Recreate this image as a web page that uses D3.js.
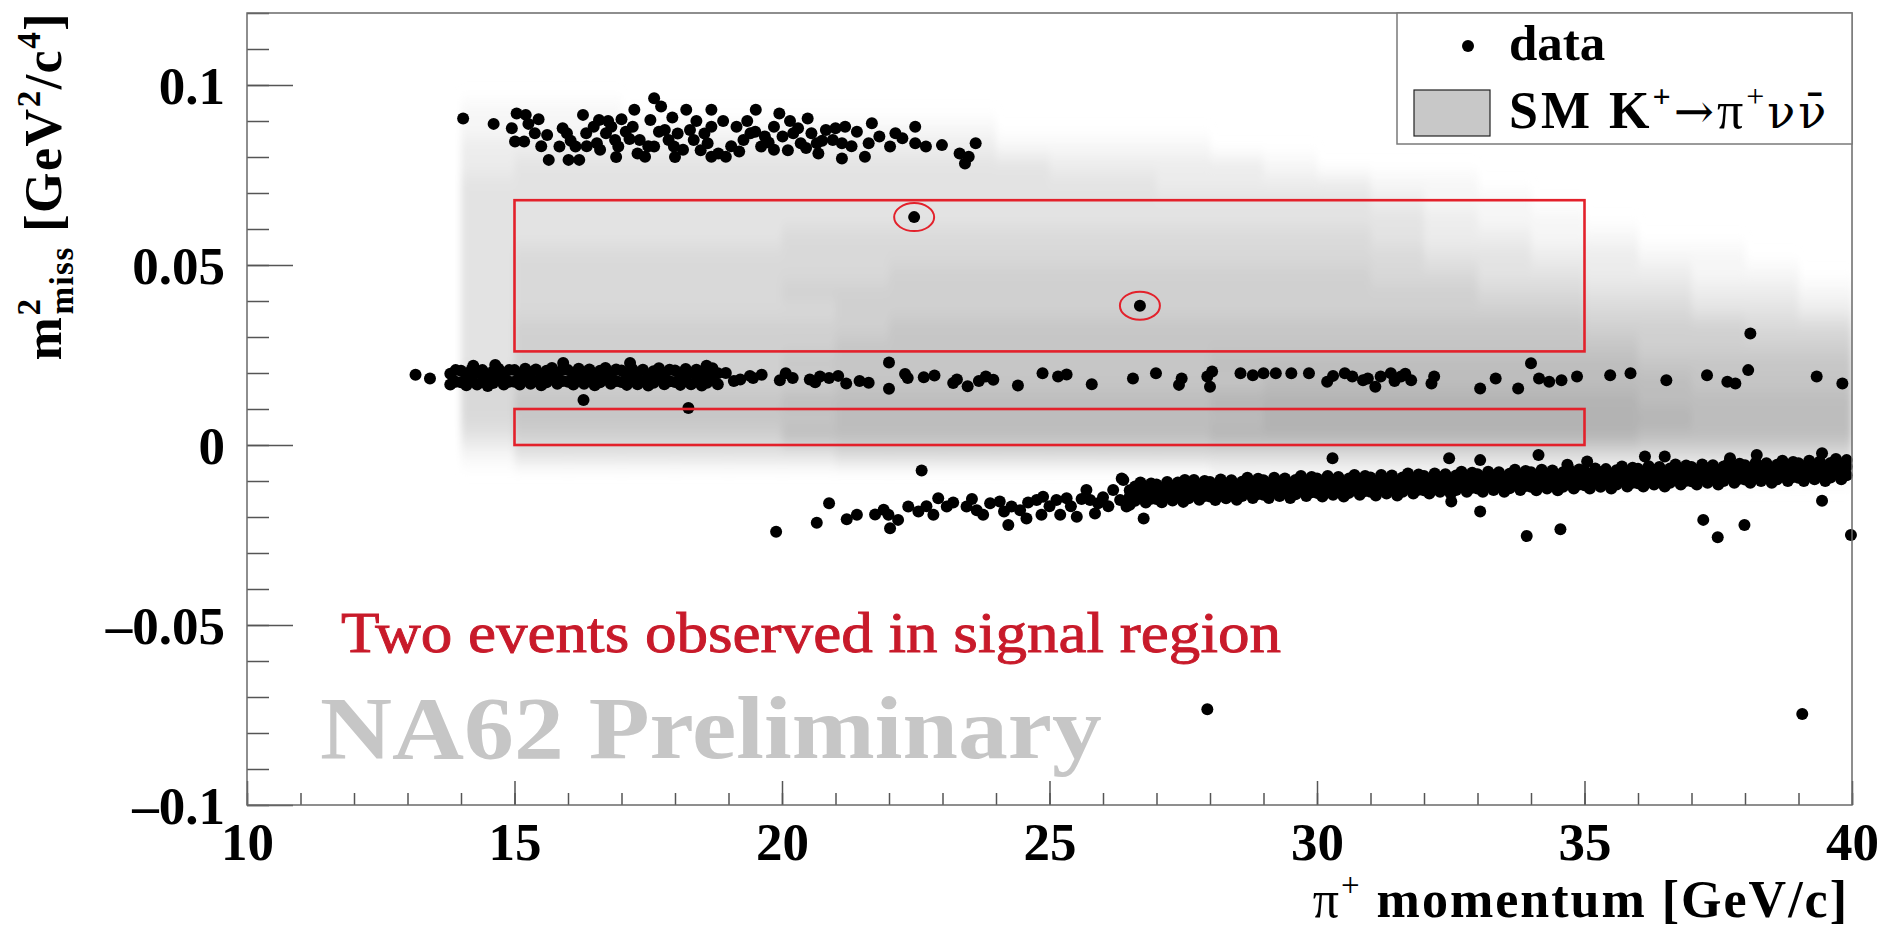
<!DOCTYPE html>
<html><head><meta charset="utf-8">
<script src="https://cdn.jsdelivr.net/npm/d3@7"></script>
<style>
body{margin:0;background:#fff}
svg{display:block}
text{font-family:"Liberation Serif","Times New Roman",serif}
</style>
</head><body>
<svg id="c" width="1900" height="927"></svg>
<script>
// ---------------- data ----------------
const xDomain = [10, 40];
const yDomain = [-0.1, 0.12];
const xMajorTicks = [10, 15, 20, 25, 30, 35, 40];
const xTickLabels = ["10", "15", "20", "25", "30", "35", "40"];
const yMajorTicks = [-0.1, -0.05, 0, 0.05, 0.1];
const yTickLabels = ["\u20130.1", "\u20130.05", "0", "0.05", "0.1"];

// SM K+ -> pi+ nu nubar expectation (grey levels 0-9), columns = 1 GeV bins starting at heatXBins
const heatXBins = [14,15,16,17,18,19,20,21,22,23,24,25,26,27,28,29,30,31,32,33,34,35,36,37,38,39];
const heatYLow = [0.090,0.085,0.080,0.075,0.070,0.065,0.060,0.055,0.050,0.045,0.040,0.035,0.030,0.025,0.020,0.015,0.010,0.005,0.000,-0.005,-0.010];
const heatYBinWidth = 0.005;
const heatRows = [
  "111"+"00000000000000000000000",
  "1111111111"+"0000000000000000",
  "2222222222"+"1111"+"000000000000",
  "2"+"3333333333"+"2222"+"1"+"0000000000",
  "3333333333333"+"2222"+"11"+"0000000",
  "33333333333333333"+"2"+"11"+"000000",
  "333333333333333333"+"2"+"11"+"00000",
  "333333"+"44444444444"+"3"+"22"+"11"+"0000",
  "3"+"44444444444444444"+"33"+"22"+"11"+"00",
  "3"+"4444444"+"555555555"+"44"+"33"+"22"+"11"+"0",
  "3"+"44444"+"5555555555555"+"44"+"33"+"22"+"1",
  "3"+"444444"+"55555555555555"+"44"+"33"+"2",
  "3"+"5555555"+"6666666666666"+"555"+"44",
  "3"+"555555"+"666666666666666"+"5555",
  "3"+"55555"+"66666666"+"77777777"+"6666",
  "4"+"555555"+"66666666"+"77777777"+"666",
  "4"+"66666"+"77777777"+"88888888"+"7777",
  "4"+"666666"+"77777777"+"88888888"+"777",
  "3"+"55555"+"77777777"+"88888888"+"7777",
  "1"+"333333"+"4444444444444444444",
  "00000000000000"+"111111111111"
];

// data points [p (GeV/c), m2miss (GeV^2/c^4)]
const topBand = [
 [14.04,.0907],[14.61,.0892],[15.04,.0921],[15.21,.0917],[15.26,.0892],[15.01,.0843],[15.18,.0843],[15.38,.0866],[15.61,.0861],[15.64,.0792],
 [15.84,.0829],[15.98,.0866],[16.01,.0792],[16.21,.0792],[16.14,.0829],[16.28,.0917],[16.34,.0866],[16.48,.0884],[16.58,.0903],[16.54,.0838],
 [16.71,.0866],[16.81,.0884],[16.88,.0847],[16.94,.0829],[17.08,.0870],[17.21,.0884],[17.24,.0931],[17.34,.0847],[17.44,.0801],[17.54,.0903],
 [17.61,.0963],[17.61,.0829],[17.74,.0940],[17.81,.0875],[17.88,.0847],[17.98,.0829],[18.21,.0931],[18.28,.0875],[18.35,.0847],[18.48,.0819],
 [18.61,.0838],[18.68,.0931],[18.68,.0884],[18.81,.0810],[18.95,.0801],[18.68,.0801],[19.15,.0884],[19.28,.0847],[19.41,.0866],[19.51,.0931],
 [19.61,.0829],[19.68,.0857],[19.85,.0884],[19.95,.0921],[20.01,.0857],[20.11,.0819],[20.21,.0866],[20.35,.0838],[20.48,.0907],[20.55,.0866],
 [20.65,.0838],[20.68,.0810],[20.82,.0875],[20.95,.0847],[21.12,.0838],[21.18,.0884],[21.12,.0796],[21.55,.0801],[21.62,.0838],[21.68,.0894],
 [21.82,.0857],[22.02,.0829],[22.12,.0866],[22.25,.0852],[22.49,.0884],[22.49,.0838],[22.69,.0829],[22.99,.0833],[23.32,.0810],[23.49,.0801],
 [23.62,.0838],[23.42,.0782],
 [15.45,.0905],[15.90,.0880],[16.05,.0845],[16.35,.0830],[16.60,.0820],[16.75,.0900],[17.00,.0905],[17.15,.0850],[17.30,.0810],[17.50,.0830],
 [17.70,.0870],[17.95,.0910],[18.05,.0865],[18.15,.0820],[18.40,.0900],[18.55,.0865],[18.90,.0900],[19.05,.0830],[19.20,.0815],[19.35,.0900],
 [19.50,.0870],[19.75,.0840],[19.85,.0820],[20.15,.0900],[20.30,.0880],[20.45,.0825],[20.75,.0845],[21.00,.0880],[21.30,.0830],[21.40,.0870],
 [16.90,.0800],[18.00,.0800],[15.50,.0830],[14.95,.0880]
];
// dense part of the middle band: [p, upper m2, lower m2]
const midBandDense = [
 [13.8,.0198,.0168],[13.9,.0208,.0176],[14.0,.0206,.0174],[14.1,.0196,.0166],[14.2,.0210,.0180],[14.3,.0200,.0168],[14.4,.0208,.0176],[14.5,.0194,.0164],[14.6,.0204,.0172],[14.7,.0212,.0182],
 [14.8,.0198,.0168],[14.9,.0208,.0176],[15.0,.0208,.0176],[15.1,.0198,.0168],[15.2,.0212,.0182],[15.3,.0202,.0170],[15.4,.0210,.0178],[15.5,.0196,.0166],[15.6,.0206,.0174],[15.7,.0214,.0184],
 [15.8,.0200,.0170],[15.9,.0210,.0178],[16.0,.0208,.0176],[16.1,.0198,.0168],[16.2,.0212,.0182],[16.3,.0202,.0170],[16.4,.0210,.0178],[16.5,.0196,.0166],[16.6,.0206,.0174],[16.7,.0214,.0184],
 [16.8,.0200,.0170],[16.9,.0210,.0178],[17.0,.0207,.0175],[17.1,.0197,.0167],[17.2,.0211,.0181],[17.3,.0201,.0169],[17.4,.0209,.0177],[17.5,.0195,.0165],[17.6,.0205,.0173],[17.7,.0213,.0183],
 [17.8,.0199,.0169],[17.9,.0209,.0177],[18.0,.0207,.0175],[18.1,.0197,.0167],[18.2,.0211,.0181],[18.3,.0201,.0169],[18.4,.0209,.0177],[18.5,.0195,.0165],[18.6,.0205,.0173],[18.7,.0213,.0183],
 [18.8,.0199,.0169]
];
const midBandSparse = [
 [13.15,.0195],[13.42,.0185],[14.23,.0220],[14.64,.0222],[15.91,.0228],[17.16,.0228],[18.59,.0220],[16.29,.0125],[18.25,.0103],
 [18.95,.0200],[19.10,.0178],[19.22,.0182],[19.40,.0192],[19.46,.0186],[19.62,.0195],[19.96,.0180],[20.07,.0199],[20.20,.0186],[20.52,.0182],
 [20.62,.0174],[20.71,.0190],[20.88,.0186],[21.05,.0192],[21.20,.0171],[21.45,.0178],[21.62,.0173],[22.00,.0229],[22.00,.0156],[22.30,.0197],
 [22.35,.0186],[22.65,.0188],[22.85,.0193],[23.20,.0172],[23.27,.0182],[23.47,.0163],[23.68,.0178],[23.81,.0190],[23.95,.0181],[24.41,.0165],
 [24.87,.0199],[25.16,.0190],[25.32,.0196],[25.79,.0169],
 [26.56,.0185],[26.99,.0199],[27.42,.0167],[27.47,.0185],[27.95,.0190],[28.00,.0162],[28.04,.0204],[28.57,.0199],[28.80,.0194],[29.00,.0199],
 [29.23,.0199],[29.52,.0199],[29.85,.0199],[30.19,.0176],[30.30,.0192],[30.52,.0199],[30.66,.0190],[30.86,.0180],[30.95,.0185],[31.09,.0162],
 [31.19,.0190],[31.38,.0199],[31.45,.0178],[31.57,.0190],[31.65,.0198],[31.76,.0180],[32.14,.0171],[32.19,.0190],[33.05,.0157],[33.34,.0185],
 [33.76,.0157],[34.00,.0227],[34.15,.0185],[34.34,.0176],[34.57,.0180],[34.86,.0190],[35.48,.0194],[35.86,.0199],[36.53,.0180],[37.29,.0194],
 [37.67,.0176],[37.82,.0171],[38.06,.0208],[38.10,.0310],[39.34,.0190],[39.82,.0171]
];
const lowBandSparse = [
 [19.89,-.0241],[20.65,-.0216],[20.88,-.0162],[21.21,-.0206],[21.40,-.0194],[21.74,-.0193],[21.90,-.0180],[21.99,-.0194],[22.02,-.0231],[22.17,-.0208],
 [22.36,-.0171],[22.55,-.0185],[22.61,-.0071],[22.70,-.0170],[22.83,-.0194],[22.92,-.0148],[23.08,-.0171],[23.20,-.0160],[23.45,-.0171],[23.55,-.0150],
 [23.64,-.0181],[23.76,-.0194],[23.89,-.0162],[24.07,-.0157],[24.15,-.0185],[24.23,-.0222],[24.29,-.0171],[24.45,-.0181],[24.57,-.0204],[24.60,-.0160],
 [24.76,-.0153],[24.88,-.0144],[24.85,-.0194],[25.00,-.0170],[25.13,-.0153],[25.20,-.0194],[25.32,-.0148],[25.40,-.0170],[25.51,-.0199],[25.60,-.0150],
 [25.69,-.0125],[25.76,-.0153],[25.85,-.0190],[25.91,-.0162],[26.00,-.0145],[26.10,-.0170],[26.19,-.0125],[26.32,-.0153],[26.38,-.0097],[26.44,-.0171]
];
// dense part of the lower band: [p, upper m2, middle m2, lower m2]
const lowBandDense = [
 [26.5,-.0126,-.0143,-.0166],[26.6,-.0115,-.0139,-.0155],[26.7,-.0104,-.0123,-.0144],[26.8,-.0120,-.0141,-.0160],[26.9,-.0107,-.0125,-.0149],
 [27.0,-.0110,-.0128,-.0150],[27.1,-.0119,-.0142,-.0159],[27.2,-.0103,-.0123,-.0143],[27.3,-.0114,-.0130,-.0154],[27.4,-.0104,-.0126,-.0144],
 [27.5,-.0118,-.0135,-.0158],[27.6,-.0108,-.0132,-.0148],[27.7,-.0097,-.0116,-.0137],[27.8,-.0112,-.0133,-.0152],[27.9,-.0100,-.0118,-.0142],
 [28.0,-.0103,-.0121,-.0143],[28.1,-.0113,-.0136,-.0153],[28.2,-.0096,-.0116,-.0136],[28.3,-.0108,-.0124,-.0148],[28.4,-.0098,-.0120,-.0138],
 [28.5,-.0112,-.0129,-.0152],[28.6,-.0102,-.0126,-.0142],[28.7,-.0091,-.0110,-.0131],[28.8,-.0107,-.0128,-.0147],[28.9,-.0094,-.0112,-.0136],
 [29.0,-.0098,-.0116,-.0138],[29.1,-.0107,-.0130,-.0147],[29.2,-.0091,-.0111,-.0131],[29.3,-.0102,-.0118,-.0142],[29.4,-.0093,-.0115,-.0133],
 [29.5,-.0107,-.0124,-.0147],[29.6,-.0097,-.0121,-.0137],[29.7,-.0086,-.0105,-.0126],[29.8,-.0102,-.0123,-.0142],[29.9,-.0089,-.0107,-.0131],
 [30.0,-.0093,-.0111,-.0133],[30.1,-.0103,-.0126,-.0143],[30.2,-.0086,-.0106,-.0126],[30.3,-.0098,-.0114,-.0138],[30.4,-.0089,-.0111,-.0129],
 [30.5,-.0103,-.0120,-.0143],[30.6,-.0093,-.0117,-.0133],[30.7,-.0083,-.0102,-.0123],[30.8,-.0098,-.0119,-.0138],[30.9,-.0086,-.0104,-.0128],
 [31.0,-.0090,-.0108,-.0130],[31.1,-.0100,-.0123,-.0140],[31.2,-.0083,-.0103,-.0123],[31.3,-.0095,-.0111,-.0135],[31.4,-.0085,-.0107,-.0125],
 [31.5,-.0100,-.0117,-.0140],[31.6,-.0090,-.0114,-.0130],[31.7,-.0079,-.0098,-.0119],[31.8,-.0095,-.0116,-.0135],[31.9,-.0082,-.0100,-.0124],
 [32.0,-.0086,-.0104,-.0126],[32.1,-.0095,-.0118,-.0135],[32.2,-.0079,-.0099,-.0119],[32.3,-.0090,-.0106,-.0130],[32.4,-.0081,-.0103,-.0121],
 [32.5,-.0095,-.0112,-.0135],[32.6,-.0085,-.0109,-.0125],[32.7,-.0074,-.0093,-.0114],[32.8,-.0090,-.0111,-.0130],[32.9,-.0077,-.0095,-.0119],
 [33.0,-.0081,-.0099,-.0121],[33.1,-.0090,-.0113,-.0130],[33.2,-.0074,-.0094,-.0114],[33.3,-.0085,-.0101,-.0125],[33.4,-.0076,-.0098,-.0116],
 [33.5,-.0090,-.0107,-.0130],[33.6,-.0080,-.0104,-.0120],[33.7,-.0069,-.0088,-.0109],[33.8,-.0085,-.0106,-.0125],[33.9,-.0072,-.0090,-.0114],
 [34.0,-.0076,-.0094,-.0116],[34.1,-.0086,-.0109,-.0126],[34.2,-.0069,-.0089,-.0109],[34.3,-.0081,-.0097,-.0121],[34.4,-.0071,-.0093,-.0111],
 [34.5,-.0086,-.0103,-.0126],[34.6,-.0076,-.0100,-.0116],[34.7,-.0065,-.0084,-.0105],[34.8,-.0081,-.0102,-.0121],[34.9,-.0068,-.0086,-.0110],
 [35.0,-.0072,-.0090,-.0112],[35.1,-.0081,-.0104,-.0121],[35.2,-.0065,-.0085,-.0105],[35.3,-.0076,-.0092,-.0116],[35.4,-.0067,-.0089,-.0107],
 [35.5,-.0081,-.0098,-.0121],[35.6,-.0070,-.0094,-.0110],[35.7,-.0060,-.0079,-.0100],[35.8,-.0075,-.0096,-.0115],[35.9,-.0063,-.0081,-.0105],
 [36.0,-.0066,-.0084,-.0106],[36.1,-.0075,-.0098,-.0115],[36.2,-.0059,-.0079,-.0099],[36.3,-.0070,-.0086,-.0110],[36.4,-.0061,-.0083,-.0101],
 [36.5,-.0075,-.0092,-.0115],[36.6,-.0065,-.0089,-.0105],[36.7,-.0054,-.0073,-.0094],[36.8,-.0070,-.0091,-.0110],[36.9,-.0057,-.0075,-.0099],
 [37.0,-.0061,-.0079,-.0101],[37.1,-.0070,-.0093,-.0110],[37.2,-.0054,-.0074,-.0094],[37.3,-.0065,-.0081,-.0105],[37.4,-.0056,-.0078,-.0096],
 [37.5,-.0070,-.0087,-.0110],[37.6,-.0060,-.0084,-.0100],[37.7,-.0049,-.0068,-.0089],[37.8,-.0065,-.0086,-.0105],[37.9,-.0052,-.0070,-.0094],
 [38.0,-.0056,-.0074,-.0096],[38.1,-.0065,-.0088,-.0105],[38.2,-.0049,-.0069,-.0089],[38.3,-.0060,-.0076,-.0100],[38.4,-.0051,-.0073,-.0091],
 [38.5,-.0065,-.0082,-.0105],[38.6,-.0055,-.0079,-.0095],[38.7,-.0044,-.0063,-.0084],[38.8,-.0060,-.0081,-.0100],[38.9,-.0047,-.0065,-.0089],
 [39.0,-.0051,-.0069,-.0091],[39.1,-.0060,-.0083,-.0100],[39.2,-.0044,-.0064,-.0084],[39.3,-.0055,-.0071,-.0095],[39.4,-.0046,-.0068,-.0086],
 [39.5,-.0060,-.0077,-.0100],[39.6,-.0050,-.0074,-.0090],[39.7,-.0039,-.0058,-.0079],[39.8,-.0055,-.0076,-.0095],[39.9,-.0042,-.0060,-.0084]
];
const outliers = [
 [30.29,-.0037],[32.47,-.0037],[33.05,-.0042],[34.14,-.0028],[36.13,-.0032],[36.50,-.0032],[38.22,-.0028],[39.44,-.0023],[37.72,-.0037],
 [26.76,-.0204],[33.05,-.0185],[32.51,-.0157],[33.92,-.0253],[34.55,-.0234],[37.22,-.0208],[37.49,-.0256],[37.99,-.0222],[39.44,-.0155],
 [39.98,-.0250],[26.35,-.0093],[27.53,-.0097],[34.68,-.0055],[35.05,-.0046],[27.95,-.0734],[39.07,-.0747]
];
const signalEvents = [[22.47, 0.0633], [26.69, 0.0387]];
// signal regions: [pMin, pMax, m2Min, m2Max]
const signalRegions = [[15, 35, 0.026, 0.068], [15, 35, 0.0, 0.01]];

const legendLabels = ["data", "SM K"];
const xTitle = " momentum [GeV/c]";
const annotation = "Two events observed in signal region";
const watermark = "NA62 Preliminary";

// ---------------- drawing ----------------
const M = {l: 247, r: 1852, t: 13, b: 805};
const svg = d3.select("#c");
const x = d3.scaleLinear().domain(xDomain).range([M.l, M.r]);
const y = d3.scaleLinear().domain(yDomain).range([M.b, M.t]);
const gray = d3.scaleLinear().domain([0, 9]).range(["#ffffff", "#aaaaaa"]);

const defs = svg.append("defs");
defs.append("clipPath").attr("id", "clip").append("rect")
  .attr("x", M.l).attr("y", M.t).attr("width", M.r - M.l).attr("height", M.b - M.t);
defs.append("filter").attr("id", "blur")
  .attr("x", "-5%").attr("y", "-20%").attr("width", "110%").attr("height", "140%")
  .append("feGaussianBlur").attr("stdDeviation", "3.5 9");

// heat map
const cells = [];
heatRows.forEach((s, i) => {
  heatXBins.forEach((xb, j) => {
    const v = +(s[j] || 0);
    if (v > 0) cells.push({x0: xb, y0: heatYLow[i], v});
  });
});
svg.append("g").attr("clip-path", "url(#clip)")
  .append("g").attr("filter", "url(#blur)")
  .selectAll("rect").data(cells).join("rect")
  .attr("x", d => x(d.x0))
  .attr("y", d => y(d.y0 + heatYBinWidth))
  .attr("width", d => x(d.x0 + 1) - x(d.x0) + 0.6)
  .attr("height", d => y(d.y0) - y(d.y0 + heatYBinWidth) + 0.6)
  .attr("fill", d => gray(d.v));

// points
const pts = [];
topBand.forEach(p => pts.push(p));
midBandDense.forEach(r => { pts.push([r[0], r[1]]); pts.push([r[0], r[2]]); });
midBandSparse.forEach(p => pts.push(p));
lowBandSparse.forEach(p => pts.push(p));
lowBandDense.forEach(r => { pts.push([r[0], r[1]]); pts.push([r[0], r[2]]); pts.push([r[0], r[3]]); });
outliers.forEach(p => pts.push(p));
signalEvents.forEach(p => pts.push(p));
svg.append("g").selectAll("circle").data(pts).join("circle")
  .attr("cx", d => x(d[0])).attr("cy", d => y(d[1])).attr("r", 6).attr("fill", "#000");

// signal regions
const red = "#e3212b";
svg.append("g").selectAll("rect").data(signalRegions).join("rect")
  .attr("x", d => x(d[0])).attr("y", d => y(d[3]))
  .attr("width", d => x(d[1]) - x(d[0])).attr("height", d => y(d[2]) - y(d[3]))
  .attr("fill", "none").attr("stroke", red).attr("stroke-width", 2.6);
svg.append("g").selectAll("ellipse").data(signalEvents).join("ellipse")
  .attr("cx", d => x(d[0])).attr("cy", d => y(d[1])).attr("rx", 20).attr("ry", 14)
  .attr("fill", "none").attr("stroke", red).attr("stroke-width", 2);

// axes
const tickColor = "#555";
const gx = svg.append("g").attr("transform", `translate(0,${M.b})`);
gx.append("g").call(d3.axisBottom(x).tickValues(d3.range(10, 41, 1)).tickSize(-12).tickFormat(""));
gx.append("g").call(d3.axisBottom(x).tickValues(xMajorTicks).tickSize(-24).tickFormat((d, i) => xTickLabels[i]));
gx.selectAll(".domain").remove();
gx.selectAll("line").attr("stroke", tickColor).attr("stroke-width", 1.5);
gx.selectAll("text").attr("y", 55).attr("dy", 0)
  .attr("font-family", '"Liberation Serif",serif').attr("font-weight", "bold").attr("font-size", 53).attr("fill", "#000");

const gy = svg.append("g").attr("transform", `translate(${M.l},0)`);
gy.append("g").call(d3.axisLeft(y).tickValues(d3.range(-10, 13, 1).map(v => v / 100)).tickSize(-22).tickFormat(""));
gy.append("g").call(d3.axisLeft(y).tickValues(yMajorTicks).tickSize(-46).tickFormat((d, i) => yTickLabels[i]));
gy.selectAll(".domain").remove();
gy.selectAll("line").attr("stroke", tickColor).attr("stroke-width", 1.5);
gy.selectAll("text").attr("x", -22).attr("dy", "0.34em")
  .attr("font-family", '"Liberation Serif",serif').attr("font-weight", "bold").attr("font-size", 53).attr("fill", "#000");

// frame
svg.append("rect").attr("x", M.l).attr("y", M.t).attr("width", M.r - M.l).attr("height", M.b - M.t)
  .attr("fill", "none").attr("stroke", "#6a6a6a").attr("stroke-width", 1.5);

// legend
const lg = svg.append("g");
lg.append("rect").attr("x", 1397).attr("y", M.t).attr("width", M.r - 1397).attr("height", 131)
  .attr("fill", "#fff").attr("stroke", "#7a7a7a").attr("stroke-width", 1.5);
lg.append("circle").attr("cx", 1468).attr("cy", 46).attr("r", 6).attr("fill", "#000");
lg.append("text").attr("x", 1509).attr("y", 60).attr("font-weight", "bold").attr("font-size", 51).text(legendLabels[0]);
lg.append("rect").attr("x", 1414).attr("y", 90).attr("width", 76).attr("height", 46)
  .attr("fill", "#c8c8c8").attr("stroke", "#222").attr("stroke-width", 1.2);
const lt = lg.append("text").attr("x", 1509).attr("y", 128).attr("font-weight", "bold").attr("font-size", 52).attr("letter-spacing", 3);
lt.append("tspan").text(legendLabels[1]);
lt.append("tspan").attr("font-size", 32).attr("dy", -21).text("+");
lt.append("tspan").attr("dy", 21).attr("font-weight", "normal").attr("font-family", '"DejaVu Serif",serif').attr("font-size", 48).text("\u2192");
lt.append("tspan").attr("font-weight", "normal").text("\u03c0");
lt.append("tspan").attr("font-size", 32).attr("dy", -21).attr("font-weight", "normal").text("+");
lt.append("tspan").attr("dy", 21).attr("font-weight", "normal").attr("font-family", '"DejaVu Serif",serif').attr("font-size", 46).text("\u03bd\u03bd\u0304");

// axis titles
const xt = svg.append("text").attr("x", 1849).attr("y", 917).attr("text-anchor", "end")
  .attr("font-weight", "bold").attr("font-size", 52).attr("letter-spacing", 2);
xt.append("tspan").attr("font-weight", "normal").text("\u03c0");
xt.append("tspan").attr("font-size", 33).attr("dy", -21).attr("font-weight", "normal").text("+");
xt.append("tspan").attr("dy", 21).text(xTitle);

const yt = svg.append("text").attr("transform", "translate(61,12) rotate(-90)").attr("text-anchor", "end")
  .attr("font-weight", "bold").attr("font-size", 52).attr("letter-spacing", 1.5);
yt.append("tspan").text("m");
yt.append("tspan").attr("font-size", 33).attr("dy", -21).text("2");
yt.append("tspan").attr("font-size", 33).attr("dx", -17).attr("dy", 33).text("miss");
yt.append("tspan").attr("dy", -12).text(" [GeV");
yt.append("tspan").attr("font-size", 33).attr("dy", -21).text("2");
yt.append("tspan").attr("dy", 21).text("/c");
yt.append("tspan").attr("font-size", 33).attr("dy", -21).text("4");
yt.append("tspan").attr("dy", 21).text("]");

// annotations
svg.append("text").attr("x", 341).attr("y", 652).attr("font-size", 58).attr("fill", "#c81a2a")
  .attr("stroke", "#c81a2a").attr("stroke-width", 0.9)
  .attr("textLength", 940).attr("lengthAdjust", "spacingAndGlyphs").text(annotation);
svg.append("text").attr("x", 320).attr("y", 758).attr("font-size", 88).attr("font-weight", "bold").attr("fill", "#c6c6c6")
  .attr("textLength", 782).attr("lengthAdjust", "spacingAndGlyphs").text(watermark);
</script>
</body></html>
